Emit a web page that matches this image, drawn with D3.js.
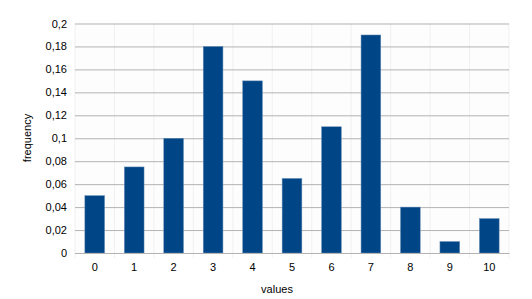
<!DOCTYPE html>
<html><head><meta charset="utf-8">
<script src="https://cdn.jsdelivr.net/npm/d3@7"></script>
<style>body{margin:0;background:#fff}svg{display:block}text{font-family:"Liberation Sans",Arial,sans-serif;fill:#000}</style>
</head><body><svg id="c" width="532" height="299"></svg>
<script>
const categories = ["0","1","2","3","4","5","6","7","8","9","10"];
const values = [0.05,0.075,0.1,0.18,0.15,0.065,0.11,0.19,0.04,0.01,0.03];
const yTicks = [0,0.02,0.04,0.06,0.08,0.1,0.12,0.14,0.16,0.18,0.2];
const fmt = d => String(+d.toFixed(2)).replace(".", ",");

const svg = d3.select("#c");
const L = 75, R = 509, T = 23.5, B = 253;
const x = d3.scaleBand().domain(categories).range([L, R]).paddingInner(0.5).paddingOuter(0.25);
const xb = d3.scaleBand().domain(categories).range([L, R]);
const y = d3.scaleLinear().domain([0, 0.2]).range([B, T]);

svg.append("rect").attr("x", L).attr("y", T).attr("width", R - L).attr("height", B - T).attr("fill", "#fdfdfd");
// faint vertical band separators
svg.append("g").selectAll("line").data(categories.slice(1).concat(["end"])).join("line")
  .attr("x1", (d, i) => L + xb.step() * (i + 1)).attr("x2", (d, i) => L + xb.step() * (i + 1))
  .attr("y1", T).attr("y2", B + 5).attr("stroke", "#f0f0f0").attr("stroke-width", 1);
svg.append("line").attr("x1", L).attr("x2", L).attr("y1", T).attr("y2", B + 5).attr("stroke", "#f0f0f0");

const yAxis = d3.axisLeft(y).tickValues(yTicks).tickFormat(fmt).tickSize(-(R - L)).tickPadding(8);
const gy = svg.append("g").attr("transform", `translate(${L},0)`).call(yAxis);
gy.select(".domain").remove();
gy.selectAll(".tick line").attr("stroke", "#b3b3b3");
gy.selectAll(".tick text").attr("font-size", 11).attr("x", -8).attr("fill", "#000");

svg.append("g").selectAll("rect").data(values).join("rect")
  .attr("x", (d, i) => x(categories[i])).attr("width", x.bandwidth())
  .attr("y", d => y(d)).attr("height", d => B - y(d))
  .attr("fill", "#004586").attr("stroke", "#6a8fb8").attr("stroke-width", 0.5);

const xAxis = d3.axisBottom(xb).tickSize(0).tickPadding(10);
const gx = svg.append("g").attr("transform", `translate(0,${B})`).call(xAxis);
gx.select(".domain").attr("stroke", "#b3b3b3");
gx.selectAll(".tick text").attr("font-size", 11).attr("fill", "#000");

svg.append("text").attr("x", 277).attr("y", 293).attr("text-anchor", "middle").attr("font-size", 11).text("values");
svg.append("text").attr("transform", "translate(31,138) rotate(-90)").attr("text-anchor", "middle").attr("font-size", 11).text("frequency");
</script></body></html>
